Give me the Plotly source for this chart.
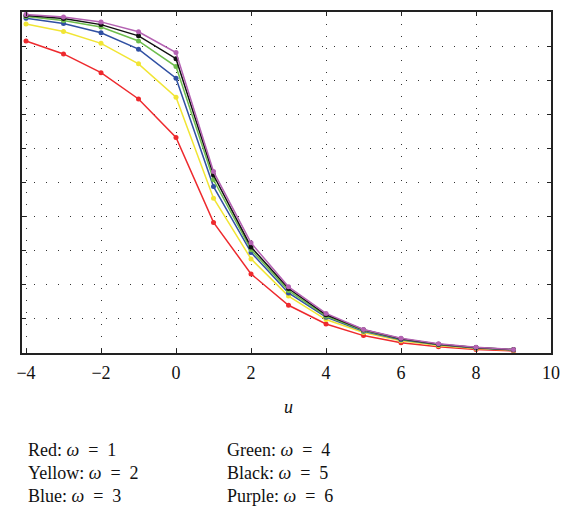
import plotly.graph_objects as go

u = [-4, -3, -2, -1, 0, 1, 2, 3, 4, 5, 6, 7, 8, 9]
red = [0.915, 0.877, 0.822, 0.745, 0.632, 0.383, 0.232, 0.140, 0.085, 0.051, 0.030, 0.018, 0.010, 0.006]
yellow = [0.965, 0.943, 0.908, 0.848, 0.750, 0.454, 0.276, 0.167, 0.098, 0.060, 0.036, 0.022, 0.013, 0.008]
blue = [0.982, 0.966, 0.939, 0.891, 0.806, 0.488, 0.295, 0.176, 0.105, 0.064, 0.039, 0.024, 0.015, 0.009]
green = [0.987, 0.975, 0.956, 0.915, 0.840, 0.508, 0.303, 0.183, 0.108, 0.066, 0.041, 0.025, 0.016, 0.010]
black = [0.990, 0.981, 0.963, 0.930, 0.863, 0.522, 0.311, 0.189, 0.112, 0.068, 0.042, 0.026, 0.016, 0.010]
purple = [0.993, 0.985, 0.971, 0.942, 0.881, 0.532, 0.323, 0.194, 0.116, 0.069, 0.043, 0.027, 0.017, 0.010]

series = [
    ("Red", 1, red, "#ee2a2e"),
    ("Yellow", 2, yellow, "#f1e534"),
    ("Blue", 3, blue, "#3050a3"),
    ("Green", 4, green, "#6dbd4c"),
    ("Black", 5, black, "#111111"),
    ("Purple", 6, purple, "#b462b2"),
]

x_ticks = [-4, -2, 0, 2, 4, 6, 8, 10]
x_label = "u"

fig = go.Figure()
for name, w, vals, col in series:
    fig.add_trace(go.Scatter(
        x=u, y=vals, mode="lines+markers", name=name,
        line=dict(color=col, width=1.5),
        marker=dict(color=col, size=5),
        showlegend=False,
    ))

FONT = "Liberation Serif"
axis_common = dict(
    showline=True, linecolor="#222222", linewidth=1.5, mirror="ticks",
    ticks="inside", ticklen=4, tickcolor="#222222", tickwidth=1.2,
    showgrid=True, gridcolor="#333333", gridwidth=1, griddash="1px,11px",
    zeroline=False,
)
fig.update_xaxes(range=[-4.107, 10], tickvals=x_ticks,
                 ticktext=[("\u2212" + str(-t)) if t < 0 else str(t) for t in x_ticks],
                 ticklabelstandoff=3,
                 tickfont=dict(family=FONT, size=18, color="#111111"), **axis_common)
fig.update_yaxes(range=[0, 1], dtick=0.1, tick0=0, showticklabels=False, **axis_common)

# page coordinates of the plot area (the page body adds an 8px offset)
TOP, BOT, LEFT, RIGHT = 10.0, 352.7, 22.0, 551.0
def py(p):
    return (BOT - p) / (BOT - TOP)
def px(p):
    return (p - LEFT) / (RIGHT - LEFT)

fig.add_annotation(x=px(288), y=py(407), xref="paper", yref="paper", text="<i>" + x_label + "</i>",
                   showarrow=False, font=dict(family=FONT, size=18, color="#111111"),
                   xanchor="center", yanchor="middle")

rows = [450, 473, 496]
for i, (name, w, vals, col) in enumerate(series):
    c = i // 3
    r = i % 3
    xpx = [26, 225][c]
    fig.add_annotation(x=px(xpx), y=py(rows[r]), xref="paper", yref="paper",
                       text=f"{name}: <i>\u03c9</i>\u2002=\u2002{w}", showarrow=False,
                       font=dict(family=FONT, size=18, color="#111111"),
                       xanchor="left", yanchor="middle")

fig.update_layout(
    width=560, height=504,
    margin=dict(l=LEFT - 8, r=560 - (RIGHT - 8), t=TOP - 8, b=504 - (BOT - 8)),
    plot_bgcolor="white", paper_bgcolor="white",
)
fig.write_html("out.html")
